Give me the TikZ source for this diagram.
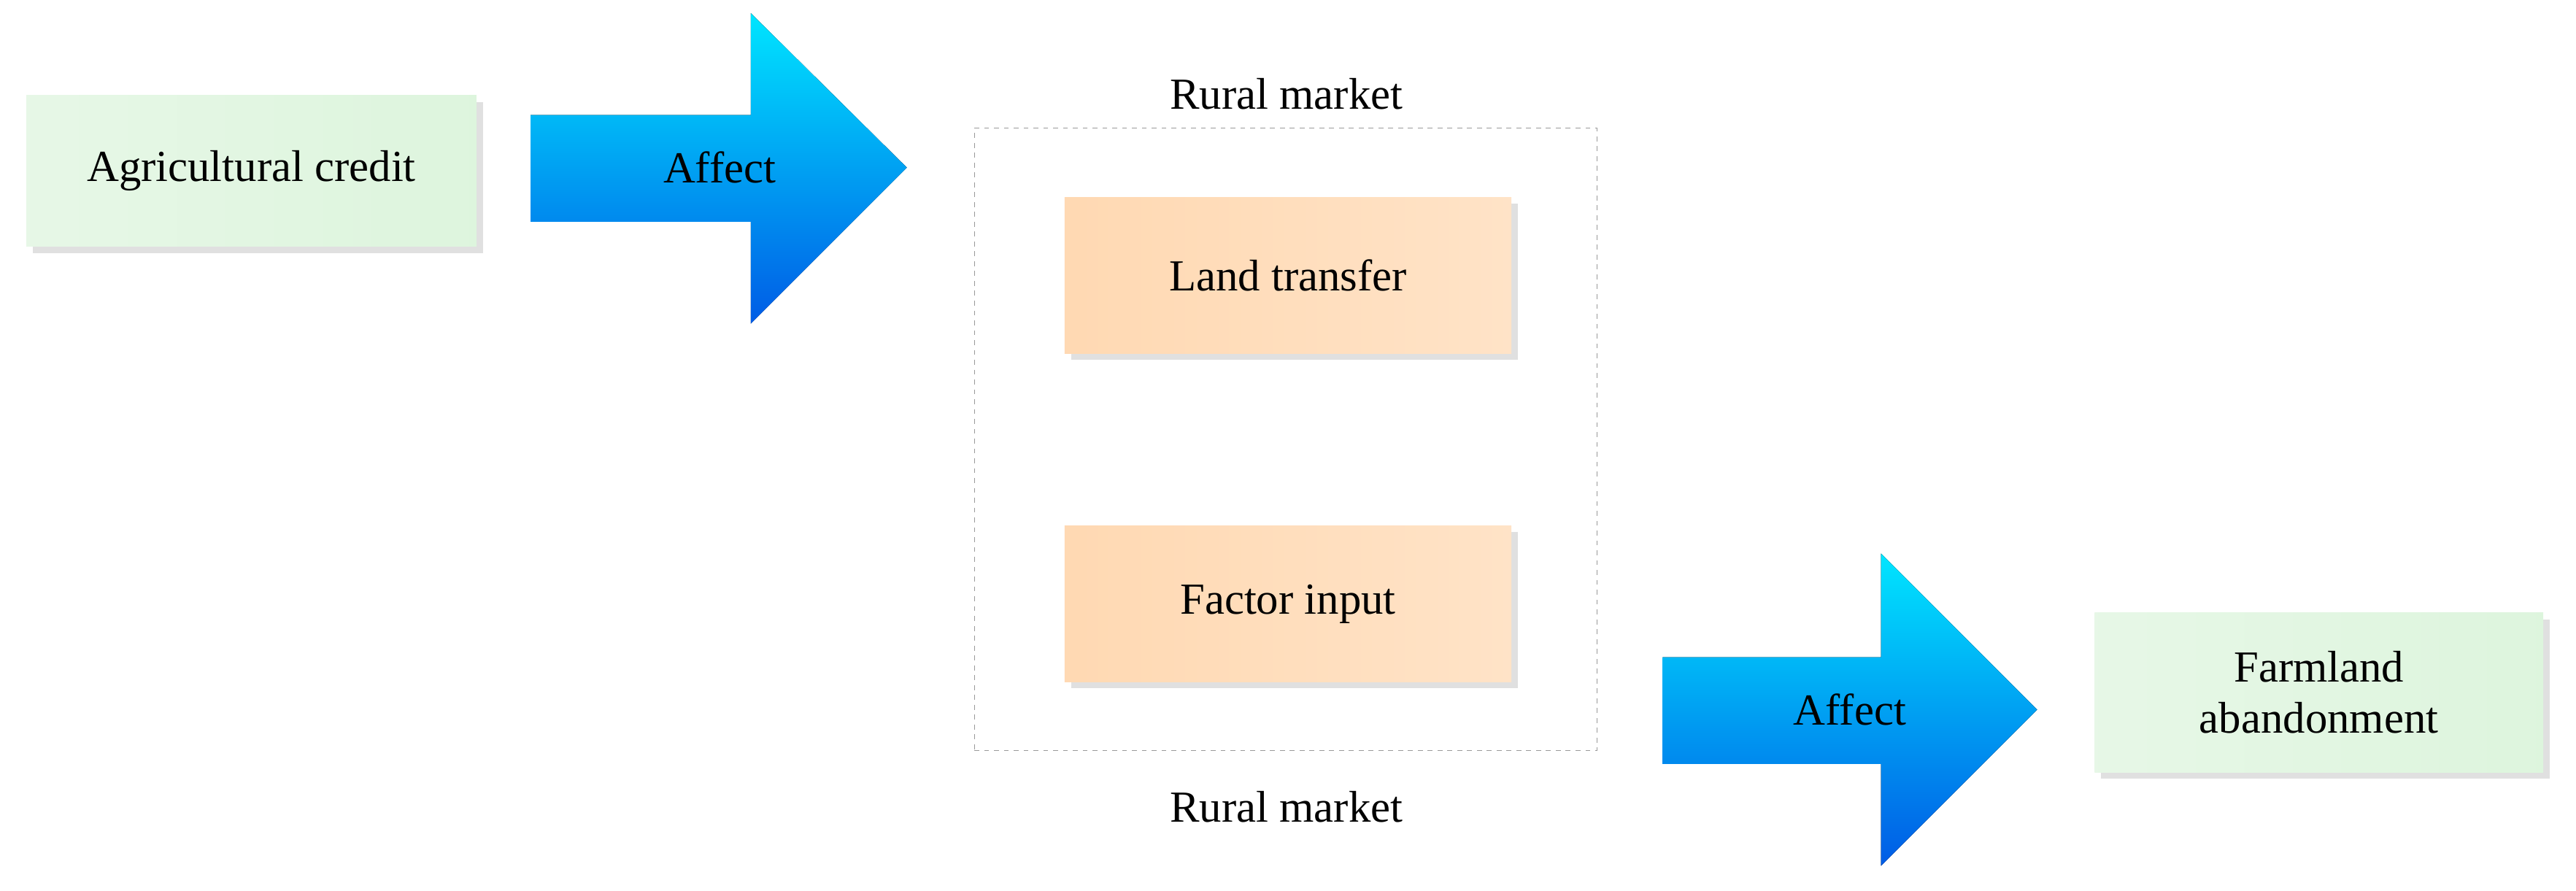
\documentclass[tikz,border=0pt]{standalone}
\usepackage{fontspec}
\setmainfont{Liberation Serif}
\begin{document}
\begin{tikzpicture}[x=1pt,y=-1pt,
  box/.style={draw=none,inner sep=0,align=center,font=\fontsize{27}{31}\selectfont},
  green/.style={box,left color=green!7!white!94!gray,right color=green!10!white!92!gray},
  peach/.style={box,left color=orange!30!white,right color=orange!22!white},
  shadow/.style={fill=black!12},
  arr/.style={top color=cyan!90!blue,bottom color=blue!60!cyan!90!black,draw=none},
  lbl/.style={font=\fontsize{27}{31}\selectfont}]
\useasboundingbox (0,0) rectangle (1568,542);
\foreach \a/\b/\c/\d in {16/58/290/150,648/120/920/215,648/320/920/415,1275/373/1548/470}
  \fill[shadow] (\a+4,\b+4) rectangle (\c+4,\d+4);
\node[green,minimum width=274,minimum height=92] (ac) at (153,104) {Agricultural credit};
\node[green,minimum width=273,minimum height=97] (fa) at (1411.5,421.5) {Farmland\\abandonment};
\node[peach,minimum width=272,minimum height=95] (lt) at (784,167.5) {Land transfer};
\node[peach,minimum width=272,minimum height=95] (fi) at (784,367.5) {Factor input};
\node[draw=black!40,dashed,minimum width=379,minimum height=379,inner sep=0] (rm) at (782.5,267.5) {};
\node[lbl] (rt) at (783,57) {Rural market};
\node[lbl] (rb) at (783,491) {Rural market};
\fill[arr] (323,70) -- (457,70) -- (457,8) -- (552,102) -- (457,197) -- (457,135) -- (323,135) -- cycle;
\node[lbl] (a1) at (438,102) {Affect};
\fill[arr] (1012,400) -- (1145,400) -- (1145,337) -- (1240,432) -- (1145,527) -- (1145,465) -- (1012,465) -- cycle;
\node[lbl] (a2) at (1126,432) {Affect};
\end{tikzpicture}
\end{document}
